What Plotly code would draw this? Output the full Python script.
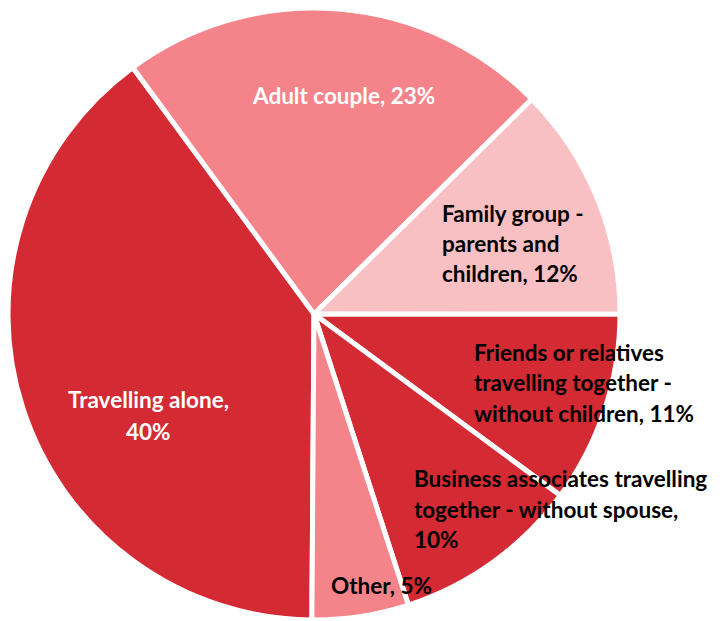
import plotly.graph_objects as go

labels = ["Travelling alone", "Adult couple", "Family group - parents and children",
          "Friends or relatives travelling together - without children",
          "Business associates travelling together - without spouse", "Other"]
values = [39.8, 22.7, 12.4, 10.1, 9.9, 5.1]
pct_text = ["40%", "23%", "12%", "11%", "10%", "5%"]
colors = ["#D42A33", "#F5838A", "#F9C0C4", "#D42A33", "#D42A33", "#F5838A"]

W, H = 720, 621
OFF = 8  # page body margin offset
cx, cy, r = 314 - OFF, 314 - OFF, 306

fig = go.Figure(go.Pie(
    labels=labels, values=values, sort=False, direction="clockwise",
    rotation=-179.6, textinfo="none", hoverinfo="label+percent",
    marker=dict(colors=colors, line=dict(color="white", width=5)),
    domain=dict(x=[max(0, (cx - r) / W), (cx + r) / W],
                y=[max(0, 1 - (cy + r) / H), min(1, 1 - (cy - r) / H)]),
    showlegend=False,
))

# label lines: (text, x_px, y_px, anchor, color)
label_lines = [
    ("Adult couple, " + pct_text[1], 343, 96, "center", "white"),
    ("Family group -", 440, 213, "left", "black"),
    ("parents and", 440, 243, "left", "black"),
    ("children, " + pct_text[2], 440, 273, "left", "black"),
    ("Friends or relatives", 472, 352, "left", "black"),
    ("travelling together -", 472, 382, "left", "black"),
    ("without children, " + pct_text[3], 472, 413, "left", "black"),
    ("Business associates travelling", 412, 478, "left", "black"),
    ("together - without spouse,", 412, 509, "left", "black"),
    (pct_text[4], 412, 539, "left", "black"),
    ("Other, " + pct_text[5], 381, 585, "center", "black"),
    ("Travelling alone,", 148, 399, "center", "white"),
    (pct_text[0], 148, 431, "center", "white"),
]

for t, x, y, anc, col in label_lines:
    fig.add_annotation(text="<b>" + t + "</b>", x=(x - OFF) / W, y=1 - (y - OFF) / H,
                       xref="paper", yref="paper",
                       xanchor=anc, yanchor="middle", showarrow=False,
                       font=dict(family="Lato", size=22.5, color=col))

fig.update_layout(width=W, height=H, margin=dict(l=0, r=0, t=0, b=0),
                  paper_bgcolor="white", plot_bgcolor="white")

fig.write_html("out.html")
